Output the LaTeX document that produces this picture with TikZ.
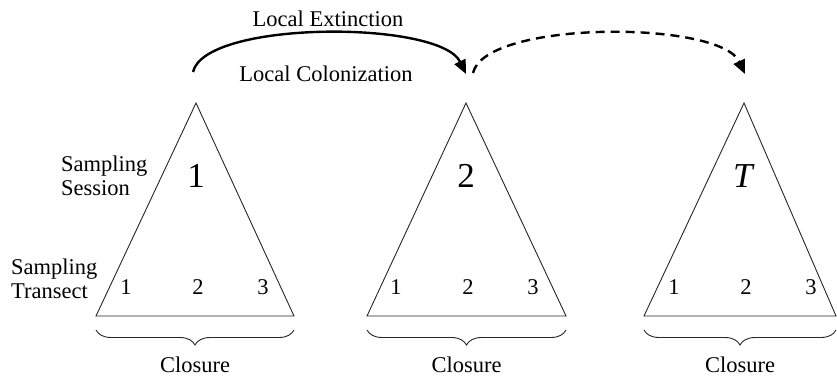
\documentclass[tikz,border=0pt]{standalone}
\usepackage{fontspec}
\setmainfont{Liberation Serif}
\usetikzlibrary{arrows.meta,decorations.pathreplacing}
\tikzstyle{tri}=[draw=black!85,line width=0.9pt]
\tikzstyle{lbl}=[font=\fontsize{22.5}{24}\selectfont,inner sep=0pt]
\tikzstyle{big}=[font=\fontsize{35}{35}\selectfont,inner sep=0pt]
\tikzstyle{closure}=[draw=black!85,line width=0.9pt,decorate,decoration={brace,mirror,amplitude=15pt,aspect=0.5}]
\tikzstyle{trans}=[line width=2.4pt,-{Triangle[length=14pt,width=12pt]}]

\begin{document}
\begin{tikzpicture}[x=1pt,y=-1pt]
        \useasboundingbox (0,0) rectangle (837,387);
        % three sampling sessions
        \foreach \n/\ax/\lx/\rx/\lab in {1/196/96/294/1, 2/466/367/566/2, 3/744/644/836/\textit{T}} {
          \coordinate (apex\n) at (\ax,103);
          \coordinate (bl\n) at (\lx,316);
          \coordinate (br\n) at (\rx,316);
          \draw [tri] (bl\n) -- (apex\n) -- (br\n) -- cycle;
          \node [big,anchor=base] (sess\n) at (\ax,188) {\lab};
          \node [lbl,anchor=base] (t\n a) at (\ax-70,294) {1};
          \node [lbl,anchor=base] (t\n b) at (\ax+2,294) {2};
          \node [lbl,anchor=base] (t\n c) at (\ax+67,294) {3};
          \draw [closure] (\lx,330) -- (\rx,330);
          \node [lbl,anchor=base] (clo\n) at ({(\lx+\rx)/2},372) {Closure};
        }
        \node [lbl,anchor=west,align=left] (session) at (61,176) {Sampling\\Session};
        \node [lbl,anchor=west,align=left] (transect) at (11,279) {Sampling\\Transect};
        % transitions between sessions
        \coordinate (s1) at (193,72);
        \coordinate (e1) at (466,74);
        \coordinate (s2) at (473,73);
        \coordinate (e2) at (745,74);
        \draw [trans] (s1) .. controls (205,20) and (440,20) .. (e1);
        \draw [trans,dash pattern=on 9pt off 6pt] (s2) .. controls (485,20) and (720,20) .. (e2);
        \node [lbl,anchor=base] (ext) at (328,27) {Local Extinction};
        \node [lbl,anchor=base] (col) at (326,82) {Local Colonization};
      \end{tikzpicture}
\end{document}
